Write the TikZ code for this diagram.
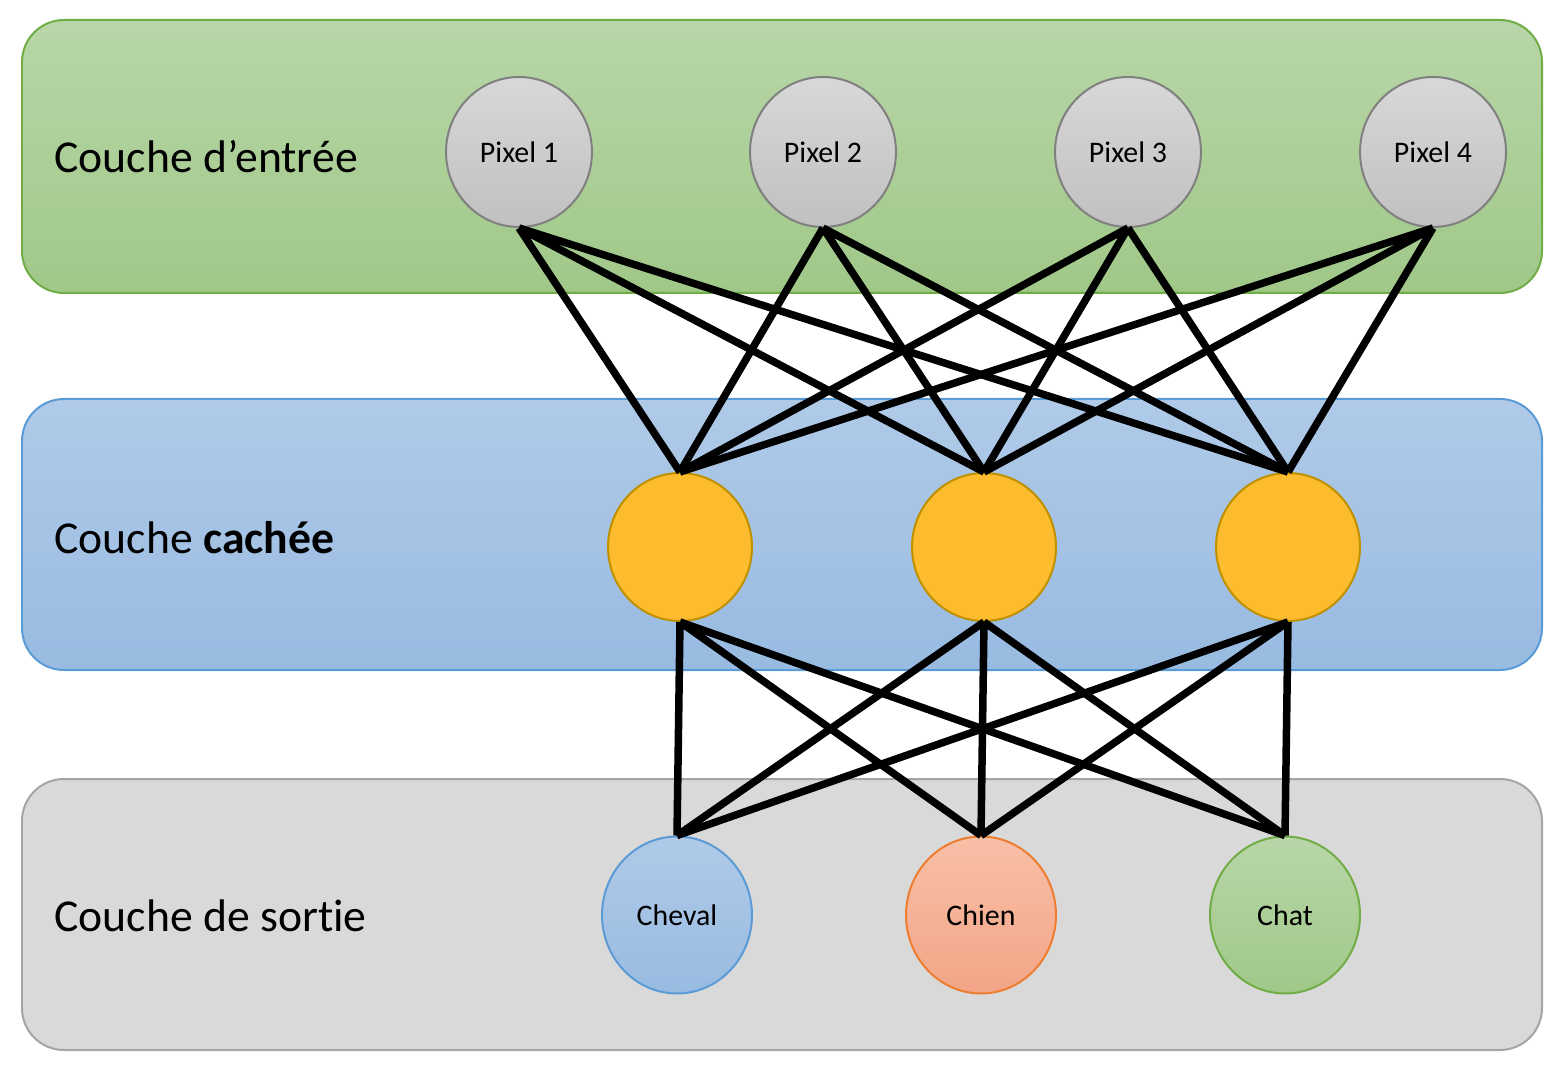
\documentclass[tikz,border=0pt]{standalone}
\usepackage{fontspec}
\setmainfont[Ligatures=NoCommon]{Carlito}
\usepackage{tikz}
\usepackage{xcolor}
\usetikzlibrary{shapes.geometric}

\definecolor{inTop}{RGB}{184,214,168}
\definecolor{inBot}{RGB}{160,200,136}
\definecolor{inLine}{RGB}{112,173,71}
\definecolor{hidTop}{RGB}{176,202,232}
\definecolor{hidBot}{RGB}{152,187,225}
\definecolor{hidLine}{RGB}{91,155,213}
\definecolor{outFill}{RGB}{217,217,217}
\definecolor{outLine}{RGB}{165,165,165}
\definecolor{pixTop}{RGB}{216,216,216}
\definecolor{pixBot}{RGB}{192,192,192}
\definecolor{pixLine}{RGB}{128,128,128}
\definecolor{neuFill}{RGB}{252,188,45}
\definecolor{neuLine}{RGB}{191,144,0}
\definecolor{chienTop}{RGB}{248,191,167}
\definecolor{chienBot}{RGB}{243,165,135}
\definecolor{chienLine}{RGB}{237,125,49}

\tikzset{
  layer/.style={rounded corners=0.84cm, line width=0.04cm},
  layertext/.style={anchor=west, inner sep=0pt, font=\fontsize{26pt}{30pt}\selectfont},
  neuron/.style={ellipse, line width=0.04cm, inner sep=0pt, font=\fontsize{17pt}{20pt}\selectfont},
  pixel/.style={neuron, draw=pixLine, top color=pixTop, bottom color=pixBot, minimum width=2.92cm, minimum height=3cm},
  hidden/.style={neuron, draw=neuLine, fill=neuFill, minimum width=2.88cm, minimum height=2.96cm},
  output/.style={neuron, minimum width=3cm, minimum height=3.14cm},
  link/.style={line width=0.15cm, black}
}

\begin{document}
\begin{tikzpicture}[x=0.02cm, y=-0.02cm]
    \useasboundingbox (0, 0) rectangle (1566, 1074);

    % layers
    \draw[layer, draw=inLine, top color=inTop, bottom color=inBot] (22, 20) rectangle (1542, 293);
    \draw[layer, draw=hidLine, top color=hidTop, bottom color=hidBot] (22, 399) rectangle (1542, 670);
    \draw[layer, draw=outLine, fill=outFill] (22, 779) rectangle (1542, 1050);

    \node[layertext] (lin) at (54, 157) {Couche d’entrée};
    \node[layertext] (lhid) at (54, 538) {Couche \textbf{cachée}};
    \node[layertext] (lout) at (54, 916) {Couche de sortie};

    % neurons
    \node[pixel] (p1) at (519, 152) {Pixel 1};
    \node[pixel] (p2) at (823, 152) {Pixel 2};
    \node[pixel] (p3) at (1128, 152) {Pixel 3};
    \node[pixel] (p4) at (1433, 152) {Pixel 4};

    \node[hidden] (h1) at (680, 547) {};
    \node[hidden] (h2) at (984, 547) {};
    \node[hidden] (h3) at (1288, 547) {};

    \node[output, draw=hidLine, top color=hidTop, bottom color=hidBot] (cheval) at (677, 915) {Cheval};
    \node[output, draw=chienLine, top color=chienTop, bottom color=chienBot] (chien) at (981, 915) {Chien};
    \node[output, draw=inLine, top color=inTop, bottom color=inBot] (chat) at (1285, 915) {Chat};

    % links
    \draw[link] (p1.south) -- (h1.north) (p1.south) -- (h2.north) (p1.south) -- (h3.north);
    \draw[link] (p2.south) -- (h1.north) (p2.south) -- (h2.north) (p2.south) -- (h3.north);
    \draw[link] (p3.south) -- (h1.north) (p3.south) -- (h2.north) (p3.south) -- (h3.north);
    \draw[link] (p4.south) -- (h1.north) (p4.south) -- (h2.north) (p4.south) -- (h3.north);

    \draw[link] (h1.south) -- (cheval.north) (h1.south) -- (chien.north) (h1.south) -- (chat.north);
    \draw[link] (h2.south) -- (cheval.north) (h2.south) -- (chien.north) (h2.south) -- (chat.north);
    \draw[link] (h3.south) -- (cheval.north) (h3.south) -- (chien.north) (h3.south) -- (chat.north);
\end{tikzpicture}
\end{document}
